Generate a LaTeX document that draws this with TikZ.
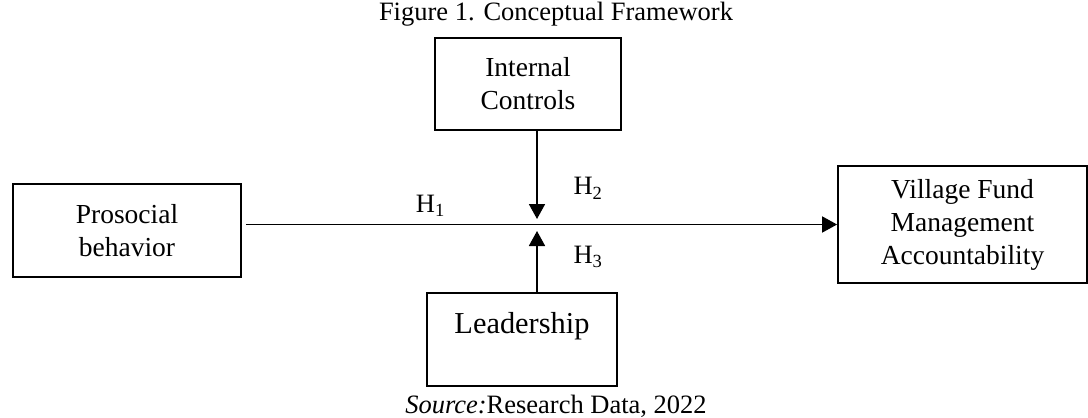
\documentclass[tikz,border=0pt]{standalone}
\usepackage{fontspec}
\setmainfont{Liberation Serif}
\usetikzlibrary{arrows.meta}
\usetikzlibrary{positioning}
\newcommand{\boxfont}{\fontsize{13.75}{16.5}\selectfont}
\newcommand{\capfont}{\fontsize{13.25}{16}\selectfont}
\newcommand{\hyp}[1]{H\textsubscript{#1}}
\tikzset{
    var/.style={draw, rectangle, line width=0.9pt, align=center, inner sep=0pt, font=\boxfont},
    link/.style={line width=0.9pt, -{Triangle[length=7.5pt, width=8pt]}},
    hlabel/.style={font=\capfont, inner sep=3.33pt},
    caption/.style={font=\capfont, anchor=base}
}
\begin{document}
\begin{tikzpicture}[x=0.5pt, y=-0.5pt]
    \useasboundingbox (0,0) rectangle (1088,418);
    % boxes
    \node[var, minimum width=114pt, minimum height=46.5pt] (prosocial) at (127,230.5) {Prosocial\\behavior};
    \node[var, minimum width=93pt, minimum height=46pt] (controls) at (528,84) {Internal\\Controls};
    \node[var, minimum width=124.5pt, minimum height=58.5pt] (village) at (962.5,224.5) {Village Fund\\Management\\Accountability};
    \node[var, minimum width=95pt, minimum height=46.5pt, font=\fontsize{15.2}{16.5}\selectfont] (leader) at (522,339.5) {Leadership\\\mbox{}};
    \coordinate (meet) at (537,224);
    % captions
    \node[caption] (title) at (556,20) {Figure 1. Conceptual Framework};
    \node[caption] (source) at (556,413) {\textit{Source:}Research Data, 2022};
    % arrows
    \draw[link] ([xshift=2pt]prosocial.east |- village.west) -- node[hlabel, pos=0.3125, above] {\hyp{1}} (village.west);
    \draw[link] (controls.south -| meet) -- node[hlabel, pos=0.65, right=14.5pt] {\hyp{2}} ([yshift=2.5pt]meet);
    \draw[link] (leader.north -| meet) -- node[hlabel, pos=0.58, right=14.5pt] {\hyp{3}} ([yshift=-3.5pt]meet);
\end{tikzpicture}
\end{document}
